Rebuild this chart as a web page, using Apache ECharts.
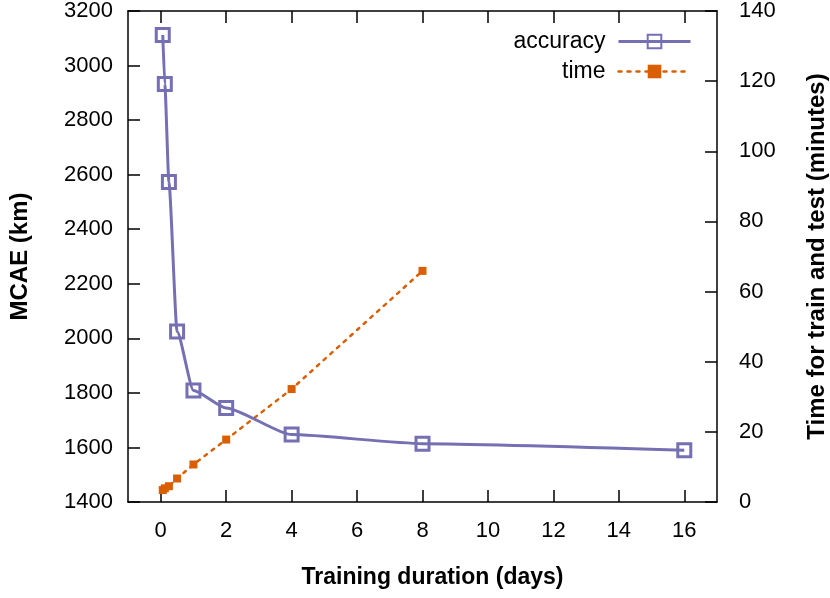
<!DOCTYPE html>
<html>
<head>
<meta charset="utf-8">
<style>
  html, body { margin: 0; padding: 0; background: #fff; }
  #main { width: 830px; height: 598px; }
</style>
</head>
<body>
<div id="main"></div>
<script src="https://cdn.jsdelivr.net/npm/echarts@6/dist/echarts.min.js"></script>
<script type="text/javascript">
    // data
    var days = [0.0625, 0.125, 0.25, 0.5, 1, 2, 4, 8, 16];
    var mcae = [3112, 2932, 2573, 2025, 1809, 1745, 1647, 1614, 1590];
    var timeDays = [0.0625, 0.125, 0.25, 0.5, 1, 2, 4, 8];
    var timeMinutes = [3.4, 3.9, 4.5, 6.7, 10.7, 17.8, 32.2, 65.9];
    var xTicks = [0, 2, 4, 6, 8, 10, 12, 14, 16];

    var purple = '#7570b3';
    var orange = '#d95f02';
    var font = 'Liberation Sans, Arial, Helvetica, sans-serif';

    var myChart = echarts.init(document.getElementById('main'));

    function pairs(xs, ys) {
        var out = [];
        for (var i = 0; i < xs.length; i++) {
            out.push([xs[i], ys[i]]);
        }
        return out;
    }

    var tickStyle = { show: true, inside: true, length: 12, lineStyle: { color: '#000', width: 1.5 } };
    var axisLineStyle = { show: true, onZero: false, lineStyle: { color: '#000', width: 1.5 } };
    var plain = function (v) { return String(v); };

    var option = {
        animation: false,
        backgroundColor: '#fff',
        textStyle: { fontFamily: font },
        grid: { left: 128, right: 113, top: 11, bottom: 96, containLabel: false, outerBoundsMode: 'none' },
        legend: {
            orient: 'vertical',
            right: 133,
            top: 25,
            align: 'right',
            itemWidth: 72,
            itemHeight: 17,
            itemGap: 7,
            selectedMode: false,
            textStyle: { fontSize: 23, color: '#000', fontFamily: font, padding: [0, 8, 0, 0] },
            data: [
                { name: 'accuracy', lineStyle: { width: 3 } },
                { name: 'time', lineStyle: { width: 2.5 } }
            ]
        },
        xAxis: [
            {
                type: 'value',
                min: -1,
                max: 17,
                name: 'Training duration (days)',
                nameLocation: 'middle',
                nameGap: 64,
                nameTextStyle: { fontSize: 23, fontWeight: 'bold', color: '#000', fontFamily: font, verticalAlign: 'top', padding: [0, 0, 0, 20] },
                axisLine: axisLineStyle,
                axisTick: { show: true, inside: true, length: 12, lineStyle: { color: '#000', width: 1.5 }, customValues: xTicks },
                axisLabel: { fontSize: 22, color: '#000', margin: 18, customValues: xTicks, formatter: plain },
                splitLine: { show: false }
            },
            {
                type: 'value',
                position: 'top',
                min: -1,
                max: 17,
                axisLine: axisLineStyle,
                axisTick: { show: true, inside: true, length: 12, lineStyle: { color: '#000', width: 1.5 }, customValues: xTicks },
                axisLabel: { show: false },
                splitLine: { show: false }
            }
        ],
        yAxis: [
            {
                type: 'value',
                min: 1400,
                max: 3200,
                interval: 200,
                name: 'MCAE (km)',
                nameLocation: 'middle',
                nameGap: 96,
                nameTextStyle: { fontSize: 24, fontWeight: 'bold', color: '#000', fontFamily: font },
                axisLine: axisLineStyle,
                axisTick: tickStyle,
                axisLabel: { fontSize: 22, color: '#000', margin: 15, formatter: plain },
                splitLine: { show: false }
            },
            {
                type: 'value',
                position: 'right',
                min: 0,
                max: 140,
                interval: 20,
                name: 'Time for train and test (minutes)',
                nameLocation: 'middle',
                nameGap: 88,
                nameTextStyle: { fontSize: 24, fontWeight: 'bold', color: '#000', fontFamily: font },
                axisLine: axisLineStyle,
                axisTick: tickStyle,
                axisLabel: { fontSize: 22, color: '#000', margin: 22, formatter: plain },
                splitLine: { show: false }
            }
        ],
        series: [
            {
                name: 'time',
                type: 'line',
                xAxisIndex: 0,
                yAxisIndex: 1,
                data: pairs(timeDays, timeMinutes),
                symbol: 'rect',
                symbolSize: 8,
                itemStyle: { color: orange },
                lineStyle: { color: orange, width: 2.5, type: [3, 6], cap: 'round' },
                z: 2
            },
            {
                name: 'accuracy',
                type: 'line',
                xAxisIndex: 0,
                yAxisIndex: 0,
                data: pairs(days, mcae),
                smooth: 0.2,
                smoothMonotone: 'x',
                symbol: 'rect',
                symbolSize: 13,
                itemStyle: { color: 'rgba(255,255,255,0)', borderColor: purple, borderWidth: 3 },
                lineStyle: { color: purple, width: 3 },
                z: 3
            }
        ]
    };

    myChart.setOption(option);
</script>
</body>
</html>
